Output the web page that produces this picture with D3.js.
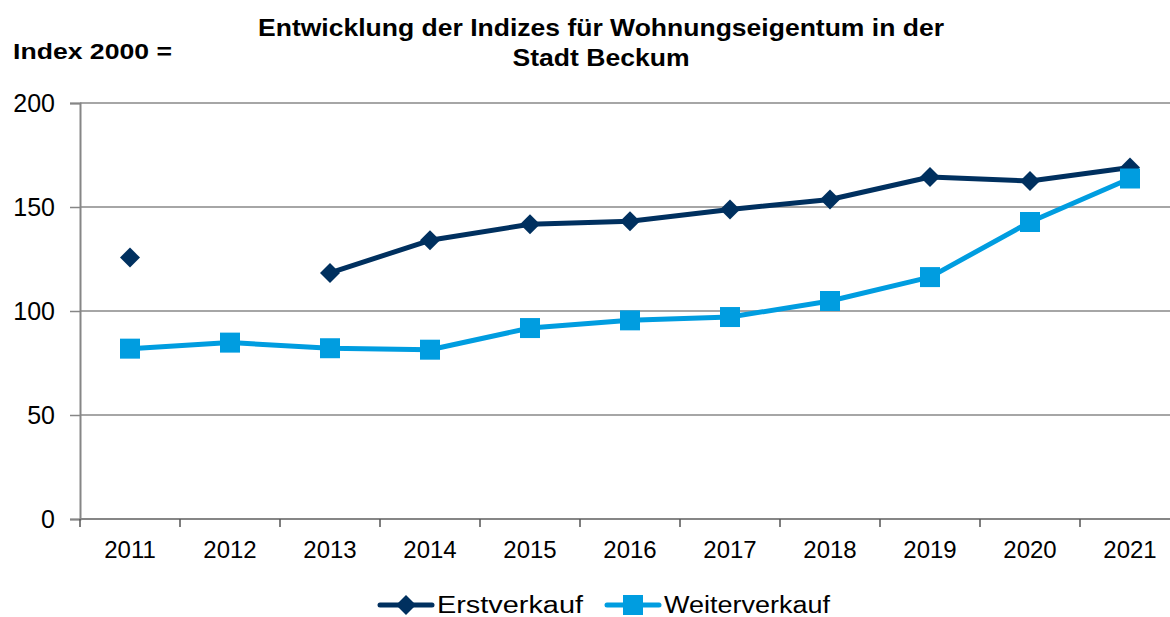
<!DOCTYPE html>
<html>
<head>
<meta charset="utf-8">
<script src="https://cdn.jsdelivr.net/npm/d3@7"></script>
<style>
  html, body { margin: 0; padding: 0; background: #fff; }
  svg { display: block; font-family: "Liberation Sans", Arial, sans-serif; }
</style>
</head>
<body>
<svg id="chart" width="1170" height="617"></svg>
<script>
// Years on the category axis
const years = ["2011","2012","2013","2014","2015","2016","2017","2018","2019","2020","2021"];
// Index values (2000 = 100); null where no value was published
const erstverkauf = [125.7, null, 118.3, 134.0, 141.7, 143.1, 148.8, 153.6, 164.4, 162.5, 169.0];
const weiterverkauf = [81.9, 84.8, 82.1, 81.4, 91.8, 95.5, 97.1, 104.8, 116.3, 142.8, 163.7];
const yTicks = [0, 50, 100, 150, 200];
const seriesNames = ["Erstverkauf", "Weiterverkauf"];
const titleLines = ["Entwicklung der Indizes für Wohnungseigentum in der", "Stadt Beckum"];
const yAxisTitle = "Index 2000 =";

const colors = { Erstverkauf: "#00305f", Weiterverkauf: "#009de0" };

const svg = d3.select("#chart");
const plotLeft = 80, plotRight = 1180, plotTop = 103, plotBottom = 519;

const x = d3.scaleBand().domain(years).range([plotLeft, plotRight]).padding(0);
const y = d3.scaleLinear().domain([0, 200]).range([plotBottom, plotTop]);

// Horizontal gridlines
svg.append("g").selectAll("line")
  .data(yTicks.filter(d => d > 0))
  .join("line")
  .attr("x1", plotLeft).attr("x2", 1170)
  .attr("y1", d => y(d)).attr("y2", d => y(d))
  .attr("stroke", "#a6a6a6").attr("stroke-width", 2);

// Y axis
const yAxis = svg.append("g")
  .attr("transform", `translate(${plotLeft},0)`)
  .call(d3.axisLeft(y).tickValues(yTicks).tickSize(10).tickPadding(15));
yAxis.select(".domain").attr("stroke", "#868686").attr("stroke-width", 2);
yAxis.selectAll(".tick line").attr("stroke", "#868686").attr("stroke-width", 1.5);
yAxis.selectAll(".tick text")
  .attr("font-size", 25).attr("fill", "#000")
  .attr("font-family", "Liberation Sans, Arial, sans-serif")
  .attr("dy", "0.35em");

// X axis: labels centred in each band, ticks at band boundaries
const xAxis = svg.append("g")
  .attr("transform", `translate(0,${plotBottom})`)
  .call(d3.axisBottom(x).tickSize(0).tickPadding(22));
xAxis.select(".domain").remove();
xAxis.selectAll(".tick text")
  .attr("font-size", 24).attr("fill", "#000")
  .attr("font-family", "Liberation Sans, Arial, sans-serif");
svg.append("line")
  .attr("x1", plotLeft).attr("x2", 1170)
  .attr("y1", plotBottom).attr("y2", plotBottom)
  .attr("stroke", "#868686").attr("stroke-width", 2);
svg.append("g").selectAll("line")
  .data(years)
  .join("line")
  .attr("x1", d => x(d)).attr("x2", d => x(d))
  .attr("y1", plotBottom).attr("y2", plotBottom + 8)
  .attr("stroke", "#555").attr("stroke-width", 1.5);

// Titles
svg.append("text")
  .attr("x", 13).attr("y", 59)
  .attr("font-size", 21.5).attr("font-weight", "bold")
  .attr("textLength", 159).attr("lengthAdjust", "spacingAndGlyphs")
  .text(yAxisTitle);
svg.selectAll(".title")
  .data(titleLines)
  .join("text")
  .attr("class", "title")
  .attr("x", 601).attr("y", (d, i) => 36 + i * 30)
  .attr("text-anchor", "middle")
  .attr("font-size", 24).attr("font-weight", "bold")
  .attr("textLength", (d, i) => i === 0 ? 686 : 177)
  .attr("lengthAdjust", "spacingAndGlyphs")
  .text(d => d);

// Lines and markers
const diamond = d3.symbol().type(d3.symbolSquare).size(200);
const square = d3.symbol().type(d3.symbolSquare).size(400);

function drawSeries(name, values, markerPath, rotate) {
  const pts = years.map((yr, i) => ({ yr, v: values[i] }));
  const line = d3.line()
    .defined(d => d.v != null)
    .x(d => x(d.yr) + x.bandwidth() / 2)
    .y(d => y(d.v));
  const g = svg.append("g");
  g.append("path")
    .datum(pts)
    .attr("d", line)
    .attr("fill", "none")
    .attr("stroke", colors[name])
    .attr("stroke-width", 5)
    .attr("stroke-linejoin", "round");
  g.selectAll("path.m")
    .data(pts.filter(d => d.v != null))
    .join("path")
    .attr("class", "m")
    .attr("d", markerPath)
    .attr("transform", d => `translate(${x(d.yr) + x.bandwidth() / 2},${y(d.v)}) rotate(${rotate})`)
    .attr("fill", colors[name]);
}
drawSeries("Erstverkauf", erstverkauf, diamond, 45);
drawSeries("Weiterverkauf", weiterverkauf, square, 0);

// Legend
const legendItems = [
  { name: seriesNames[0], x0: 380, marker: diamond, rot: 45, w: 146 },
  { name: seriesNames[1], x0: 607, marker: square, rot: 0, w: 166 }
];
const legY = 605;
legendItems.forEach(it => {
  const g = svg.append("g");
  g.append("line")
    .attr("x1", it.x0).attr("x2", it.x0 + 52)
    .attr("y1", legY).attr("y2", legY)
    .attr("stroke", colors[it.name]).attr("stroke-width", 5)
    .attr("stroke-linecap", "round");
  g.append("path")
    .attr("d", it.marker)
    .attr("transform", `translate(${it.x0 + 26},${legY}) rotate(${it.rot})`)
    .attr("fill", colors[it.name]);
  g.append("text")
    .attr("x", it.x0 + 57).attr("y", legY + 8)
    .attr("font-size", 23.5)
    .attr("textLength", it.w).attr("lengthAdjust", "spacingAndGlyphs")
    .text(it.name);
});
</script>
</body>
</html>
